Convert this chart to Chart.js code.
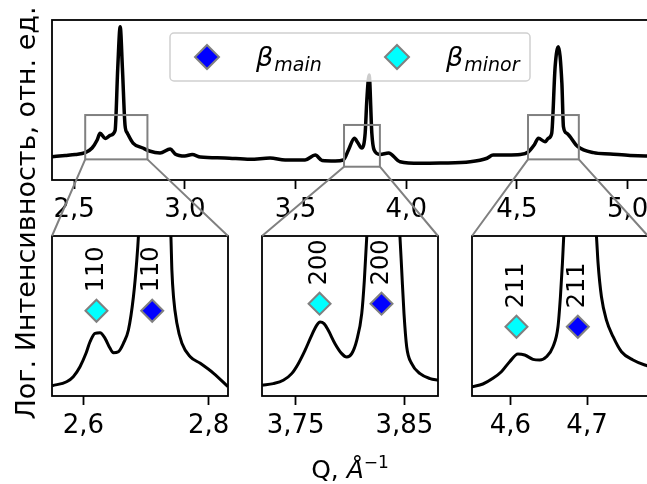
<!DOCTYPE html>
<html>
<head>
<meta charset="utf-8">
<script src="https://cdn.jsdelivr.net/npm/chart.js@4.4.0/dist/chart.umd.min.js"></script>
<style>
  html, body { margin: 0; padding: 0; background: #fff; overflow: hidden; }
  #stage { position: relative; width: 647px; height: 484px; overflow: hidden; }
  #stage canvas { position: absolute; left: 0; top: 0; }
</style>
</head>
<body>
<div id="stage">
  <canvas id="survey" width="700" height="484"></canvas>
  <canvas id="inset0" width="700" height="484"></canvas>
  <canvas id="inset1" width="700" height="484"></canvas>
  <canvas id="inset2" width="700" height="484"></canvas>
  <canvas id="overlay" width="700" height="484"></canvas>
</div>
<script>
const FONT = "'DejaVu Sans', sans-serif";

// survey pattern: Q (1/Å) and log intensity (arb. units)
const surveyQ = [2.40, 2.46, 2.505, 2.55, 2.581, 2.604, 2.617, 2.640, 2.665, 2.685,
    2.697, 2.708, 2.718, 2.730, 2.740, 2.766, 2.810, 2.840, 2.888, 2.934,
    2.956, 3.00, 3.033, 3.07, 3.18, 3.295, 3.385, 3.453, 3.543, 3.589,
    3.62, 3.679, 3.716, 3.739, 3.766, 3.782, 3.7995, 3.8144, 3.822, 3.8324,
    3.8446, 3.855, 3.882, 3.92, 3.972, 4.063, 4.153, 4.289, 4.365, 4.392,
    4.456, 4.515, 4.551, 4.578, 4.597, 4.627, 4.642, 4.657, 4.6725, 4.687,
    4.703, 4.710, 4.725, 4.775, 4.8455, 4.921, 5.011, 5.08, 5.11];
const surveyI = [1.46, 1.53, 1.59, 1.71, 2.0, 2.5, 2.92, 2.6, 2.8, 3.1,
    7.0, 9.58, 7.0, 3.4, 2.94, 2.31, 2.0, 1.81, 1.69, 1.94,
    1.63, 1.5, 1.59, 1.44, 1.38, 1.29, 1.38, 1.25, 1.25, 1.56,
    1.22, 1.19, 1.25, 1.875, 2.61, 2.31, 2.0, 2.92, 5.0, 6.56,
    2.92, 1.875, 1.6, 1.69, 1.14, 1.04, 1.06, 1.14, 1.36, 1.56,
    1.56, 1.59, 1.75, 2.19, 2.61, 2.39, 2.61, 2.92, 7.08, 8.33,
    6.04, 3.33, 2.92, 2.08, 1.71, 1.63, 1.53, 1.5, 1.5];

// zoomed views around the 110, 200 and 211 reflections
const zoom110Q = [2.5504, 2.5734, 2.584, 2.5947, 2.6043, 2.6107, 2.6187, 2.6267, 2.6347, 2.6427,
    2.648, 2.656, 2.664, 2.672, 2.680, 2.6854, 2.688, 2.696, 2.708, 2.722,
    2.7398, 2.7414, 2.744, 2.7494, 2.7574, 2.7707, 2.7867, 2.808, 2.831];
const zoom110I = [1.468, 1.537, 1.624, 1.797, 2.029, 2.229, 2.375, 2.385, 2.288, 2.115,
    2.039, 2.057, 2.202, 2.432, 3.008, 3.643, 4.06, 6.0, 9.58, 6.0,
    4.06, 3.47, 3.008, 2.548, 2.202, 1.970, 1.856, 1.683, 1.451];
const zoom200Q = [3.7192, 3.7294, 3.7386, 3.7463, 3.7524, 3.7586, 3.7647, 3.7693, 3.7724, 3.7761,
    3.780, 3.7862, 3.7924, 3.797, 3.8016, 3.8062, 3.8108, 3.8132, 3.8154, 3.822,
    3.832, 3.840, 3.846, 3.8476, 3.8497, 3.8522, 3.8568, 3.8645, 3.8737, 3.8813];
const zoom200I = [1.004, 1.032, 1.086, 1.195, 1.358, 1.575, 1.819, 1.982, 2.036, 2.010,
    1.901, 1.684, 1.521, 1.466, 1.521, 1.738, 2.173, 2.716, 3.42, 5.0,
    6.56, 5.0, 3.42, 2.879, 2.173, 1.629, 1.358, 1.195, 1.114, 1.086];
const zoom211Q = [4.5499, 4.5642, 4.5773, 4.5883, 4.5991, 4.6099, 4.6187, 4.6295, 4.6383, 4.647,
    4.6556, 4.6621, 4.6653, 4.6679, 4.6696, 4.678, 4.687, 4.698, 4.7123, 4.7144,
    4.7188, 4.7253, 4.734, 4.7449, 4.76, 4.7753, 4.78];
const zoom211I = [1.451, 1.498, 1.596, 1.710, 1.883, 2.017, 1.999, 1.925, 1.913, 1.970,
    2.143, 2.489, 3.008, 3.586, 4.05, 6.0, 8.33, 6.0, 4.05, 3.586,
    3.008, 2.605, 2.316, 2.056, 1.913, 1.826, 1.81];

const surveyTicks = [2.5, 3.0, 3.5, 4.0, 4.5, 5.0];
const zoomTicks = [[2.6, 2.8], [3.75, 3.85], [4.6, 4.7]];
const zoomDecimals = [1, 2, 1];
const zoomXMin = [2.55, 3.719, 4.55];
const zoomXMax = [2.831, 3.881, 4.7795];
const zoomYMin = [1.29, 0.83, 1.29];
const zoomYMax = [4.06, 3.44, 4.06];

// reflection markers
const peakLabels = ['110', '200', '211'];
const mainQ = [2.710, 3.829, 4.688];
const minorQ = [2.621, 3.772, 4.608];
const markerI = [2.766, 2.336, 2.489];
const phaseNames = ['main', 'minor'];
const phaseColors = ['#0000ff', '#00ffff'];

const yTitle = 'Лог. Интенсивность, отн. ед.';

// layout (canvas is wider than the window, the right edges are cut off as in the figure)
const W = 700, H = 484, AXIS_H = 40;
const surveyBox = { left: 52, right: 652, top: 20, bottom: 180 };
const zoomBoxes = [
    { left: 52, right: 228, top: 236, bottom: 396 },
    { left: 262, right: 438, top: 236, bottom: 396 },
    { left: 472, right: 648, top: 236, bottom: 396 }
];

const fmt = (v, d) => v.toFixed(d).replace('.', ',');
const pts = (xs, ys) => xs.map((x, i) => ({ x: x, y: ys[i] }));

function xAxis(min, max, ticks, dec) {
    return {
        type: 'linear', min: min, max: max,
        afterFit(scale) { scale.height = AXIS_H; },
        afterBuildTicks(scale) { scale.ticks = ticks.map(v => ({ value: v })); },
        grid: { drawOnChartArea: false, drawTicks: true, tickLength: 9, tickWidth: 1.8, tickColor: '#000' },
        border: { display: false },
        ticks: {
            color: '#000', padding: 6, maxRotation: 0, autoSkip: false,
            font: { family: FONT, size: 26 },
            callback: v => fmt(v, dec)
        }
    };
}

function padFor(box) {
    return { left: box.left, right: W - box.right, top: box.top, bottom: H - box.bottom - AXIS_H };
}

function diamond(ctx, x, y, r, fill) {
    ctx.beginPath();
    ctx.moveTo(x, y - r); ctx.lineTo(x + r, y); ctx.lineTo(x, y + r); ctx.lineTo(x - r, y);
    ctx.closePath();
    ctx.fillStyle = fill; ctx.fill();
    ctx.strokeStyle = '#808080'; ctx.lineWidth = 2; ctx.stroke();
}

const framePlugin = {
    id: 'frame',
    afterDraw(chart) {
        const { ctx, chartArea: a } = chart;
        ctx.save();
        ctx.strokeStyle = '#000';
        ctx.lineWidth = 1.8;
        ctx.strokeRect(a.left, a.top, a.right - a.left, a.bottom - a.top);
        ctx.restore();
    }
};

// gray rectangles marking the zoomed regions
const zoomRectPlugin = {
    id: 'zoomRects',
    afterDatasetsDraw(chart) {
        const { ctx, scales: { x, y } } = chart;
        ctx.save();
        ctx.strokeStyle = '#808080';
        ctx.lineWidth = 2;
        zoomXMin.forEach((q0, i) => {
            const l = x.getPixelForValue(q0), r = x.getPixelForValue(zoomXMax[i]);
            const t = y.getPixelForValue(zoomYMax[i]), b = y.getPixelForValue(zoomYMin[i]);
            ctx.strokeRect(l, t, r - l, b - t);
        });
        ctx.restore();
    }
};

const legendPlugin = {
    id: 'phaseLegend',
    afterDatasetsDraw(chart) {
        const ctx = chart.ctx;
        const x0 = 170, y0 = 33, w = 360, h = 48;
        ctx.save();
        ctx.beginPath();
        ctx.roundRect(x0, y0, w, h, 4);
        ctx.fillStyle = 'rgba(255,255,255,0.8)';
        ctx.fill();
        ctx.strokeStyle = '#d0d0d0';
        ctx.lineWidth = 1.5;
        ctx.stroke();
        phaseNames.forEach((name, i) => {
            const mx = 207 + i * 190, my = 57;
            diamond(ctx, mx, my, 12, phaseColors[i]);
            ctx.fillStyle = '#000';
            ctx.textBaseline = 'alphabetic';
            ctx.textAlign = 'left';
            ctx.font = `italic 27px ${FONT}`;
            ctx.fillText('β', mx + 49, 66);
            const bw = ctx.measureText('β').width;
            ctx.font = `italic 19px ${FONT}`;
            ctx.fillText(name, mx + 49 + bw + 1, 71);
        });
        ctx.restore();
    }
};

// rotated hkl labels above the markers
const peakLabelPlugin = {
    id: 'peakLabels',
    afterDatasetsDraw(chart, args, opts) {
        const { ctx, scales: { x, y } } = chart;
        const i = opts.index;
        ctx.save();
        ctx.font = `24px ${FONT}`;
        ctx.fillStyle = '#000';
        ctx.textAlign = 'left';
        ctx.textBaseline = 'middle';
        [minorQ[i], mainQ[i]].forEach(q => {
            ctx.save();
            ctx.translate(x.getPixelForValue(q), y.getPixelForValue(markerI[i]) - 18.5);
            ctx.rotate(-Math.PI / 2);
            ctx.fillText(peakLabels[i], 0, 0);
            ctx.restore();
        });
        ctx.restore();
    }
};

const lineStyle = {
    borderColor: '#000', pointRadius: 0, fill: false,
    tension: 0.4, cubicInterpolationMode: 'monotone'
};

const survey = new Chart(document.getElementById('survey'), {
    type: 'line',
    data: {
        datasets: [Object.assign({ data: pts(surveyQ, surveyI), borderWidth: 3.5 }, lineStyle)]
    },
    options: {
        responsive: false, animation: false, events: [],
        layout: { padding: padFor(surveyBox) },
        plugins: { legend: { display: false }, tooltip: { enabled: false } },
        scales: {
            x: xAxis(2.4, 5.11, surveyTicks, 1),
            y: { type: 'linear', display: false, min: 0, max: 10 }
        }
    },
    plugins: [zoomRectPlugin, legendPlugin, framePlugin]
});

const zoomData = [[zoom110Q, zoom110I], [zoom200Q, zoom200I], [zoom211Q, zoom211I]];
const zooms = zoomData.map(([qs, is], i) => new Chart(document.getElementById('inset' + i), {
    type: 'line',
    data: {
        datasets: [
            Object.assign({ data: pts(qs, is), borderWidth: 3 }, lineStyle),
            {
                data: [{ x: minorQ[i], y: markerI[i] }], showLine: false,
                pointStyle: 'rectRot', pointRadius: 11, pointBorderWidth: 2,
                backgroundColor: phaseColors[1], borderColor: '#808080'
            },
            {
                data: [{ x: mainQ[i], y: markerI[i] }], showLine: false,
                pointStyle: 'rectRot', pointRadius: 11, pointBorderWidth: 2,
                backgroundColor: phaseColors[0], borderColor: '#808080'
            }
        ]
    },
    options: {
        responsive: false, animation: false, events: [],
        layout: { padding: padFor(zoomBoxes[i]) },
        plugins: { legend: { display: false }, tooltip: { enabled: false }, peakLabels: { index: i } },
        scales: {
            x: xAxis(zoomXMin[i], zoomXMax[i], zoomTicks[i], zoomDecimals[i]),
            y: { type: 'linear', display: false, min: zoomYMin[i], max: zoomYMax[i] }
        }
    },
    plugins: [peakLabelPlugin, framePlugin]
}));

// connectors, axis titles
const ov = document.getElementById('overlay').getContext('2d');
ov.strokeStyle = '#808080';
ov.lineWidth = 2;
zooms.forEach((c, i) => {
    const a = c.chartArea, sx = survey.scales.x, sy = survey.scales.y;
    const yb = sy.getPixelForValue(zoomYMin[i]);
    ov.beginPath();
    ov.moveTo(sx.getPixelForValue(zoomXMin[i]), yb); ov.lineTo(a.left, a.top);
    ov.moveTo(sx.getPixelForValue(zoomXMax[i]), yb); ov.lineTo(a.right, a.top);
    ov.stroke();
});

ov.fillStyle = '#000';
ov.save();
ov.translate(35, 213);
ov.rotate(-Math.PI / 2);
ov.font = `27px ${FONT}`;
ov.textAlign = 'center';
ov.textBaseline = 'alphabetic';
ov.fillText(yTitle, 0, 0);
ov.restore();

(function xTitle() {
    const parts = [
        { t: 'Q, ', f: `25px ${FONT}`, dy: 0 },
        { t: 'Å', f: `italic 25px ${FONT}`, dy: 0 },
        { t: '−1', f: `17px ${FONT}`, dy: -10 }
    ];
    let total = 0;
    parts.forEach(p => { ov.font = p.f; p.w = ov.measureText(p.t).width; total += p.w; });
    let x = (zoomBoxes[0].left + zoomBoxes[2].right) / 2 - total / 2;
    ov.textAlign = 'left';
    ov.textBaseline = 'alphabetic';
    parts.forEach(p => { ov.font = p.f; ov.fillText(p.t, x, 478 + p.dy); x += p.w; });
})();
</script>
</body>
</html>
